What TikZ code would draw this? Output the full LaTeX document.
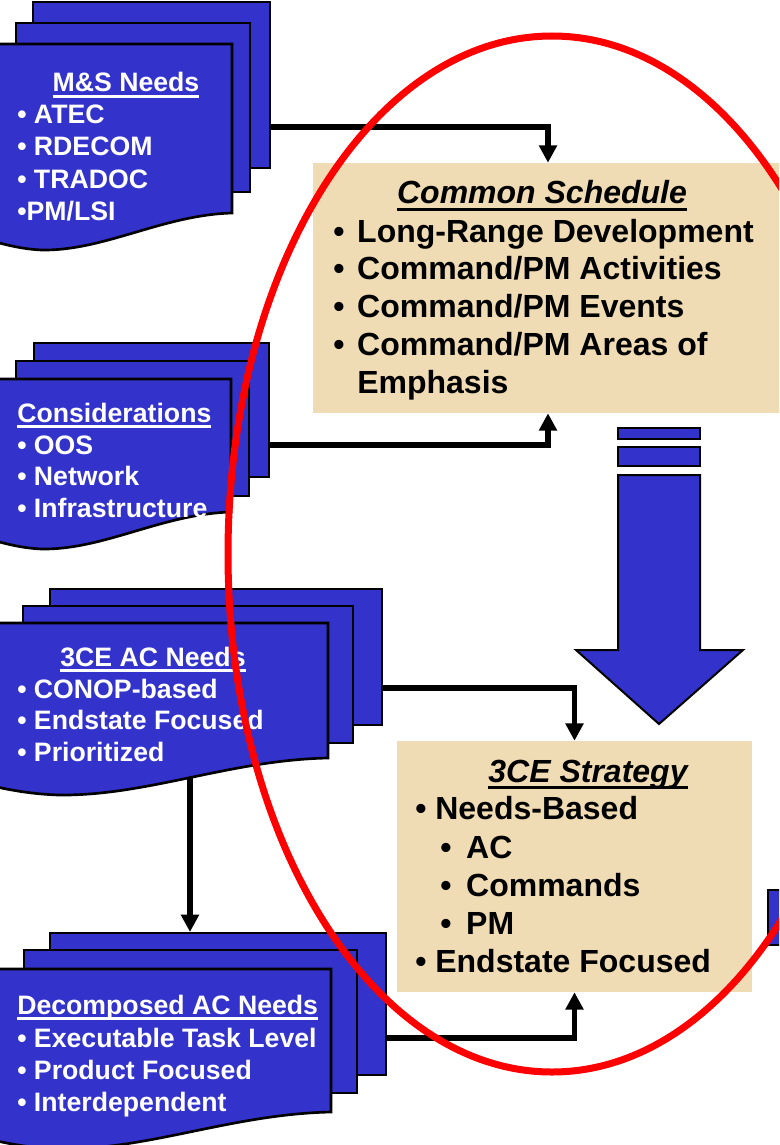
\documentclass[tikz,border=0pt]{standalone}
\usepackage{fontspec}
\setmainfont{Liberation Sans}
\usetikzlibrary{arrows.meta,calc}
\definecolor{sheetblue}{RGB}{51,51,204}
\definecolor{boxtan}{RGB}{240,220,180}
\definecolor{ringred}{RGB}{255,0,0}
\newcommand{\bigtxt}{\fontsize{24}{28.5}\selectfont\bfseries}
\newcommand{\smalltxt}{\fontsize{20}{24}\selectfont\bfseries}
\newcommand{\ulbar}[2][4.6pt]{\setbox0\hbox{#2}\rlap{\rule[-#1]{\wd0}{2pt}}\box0}
% front sheet of a stack: right edge, top, right end of the wavy bottom
\newcommand{\wavesheet}[3]{%
  \draw[sheet] (-20,#2) -- (#1,#2) -- (#1,#3)
    .. controls ({0.7*#1},{#3+2}) and ({0.45*#1},{#3+38}) .. ({0.18*#1},{#3+37})
    .. controls ({0.08*#1},{#3+36}) and (0,{#3+30}) .. (-20,{#3+25}) -- cycle;}

\begin{document}
\begin{tikzpicture}[x=0.75pt,y=-0.75pt,
  sheet/.style={fill=sheetblue,draw=black,line width=2pt},
  tanbox/.style={fill=boxtan,inner sep=0pt},
  flow/.style={line width=4pt,-{Triangle[length=13pt,width=13pt]}},
  wtxt/.style={text=white,font=\smalltxt,inner sep=0pt,anchor=base west},
  btxt/.style={font=\bigtxt,inner sep=0pt,anchor=base west}]
  \useasboundingbox (0,0) rectangle (779,1145);
  \clip (0,0) rectangle (779,1145);
  % tan boxes
  \node[tanbox,minimum width=352.5pt,minimum height=187.5pt] (sched) at (548,288) {};
  \node[tanbox,minimum width=266.25pt,minimum height=188.25pt] (strat) at (574.5,866.5) {};
  % connectors
  \coordinate (msout) at (270,127);
  \coordinate (conout) at (270,445);
  \coordinate (acout) at (382,688);
  \coordinate (acbot) at (190,760);
  \coordinate (dectop) at (190,932);
  \coordinate (decout) at (386,1038);
  \draw[flow] (msout) -| (sched.north);
  \draw[flow] (conout) -| (sched.south);
  \draw[flow] (acout) -| (strat.north);
  \draw[flow] (acbot) -- (dectop);
  \draw[flow] (decout) -| (strat.south);
  % M&S needs
  \draw[sheet] (33,2) rectangle (270,168);
  \draw[sheet] (16,23) rectangle (250,192);
  \wavesheet{232}{44}{213}
  % considerations
  \draw[sheet] (34,343) rectangle (269,477);
  \draw[sheet] (16,361) rectangle (249,496);
  \wavesheet{231}{379}{512}
  % 3CE AC needs
  \draw[sheet] (50,589) rectangle (382,725);
  \draw[sheet] (23,606) rectangle (353,743);
  \wavesheet{328}{623}{758}
  % decomposed AC needs
  \draw[sheet] (50,933) rectangle (386,1075);
  \draw[sheet] (24,950) rectangle (357,1093);
  \wavesheet{331}{969}{1112}
  % box at the right edge
  \draw[sheet] (768,890) rectangle (800,945);
  % big down arrow
  \draw[sheet] (618,428) rectangle (700,439);
  \draw[sheet] (618,447) rectangle (700,466);
  \draw[sheet,line width=1.5pt] (618,475) -- (700,475) -- (700,650) -- (743,650)
    -- (659,724) -- (576,650) -- (618,650) -- cycle;
  % sheet texts
  \node[wtxt,anchor=base] (mstitle) at (126,92) {\ulbar{M\&S Needs}};
  \foreach \lbl [count=\i] in {ATEC,RDECOM,TRADOC}
    \node[wtxt] (ms\i) at (17,{124+32*(\i-1)}) {• \lbl};
  \node[wtxt] (ms4) at (17,220) {•PM/LSI};
  \node[wtxt] (contitle) at (17,422) {\ulbar{Considerations}};
  \foreach \lbl [count=\i] in {OOS,Network,Infrastructure}
    \node[wtxt] (con\i) at (17,{454+31.5*(\i-1)}) {• \lbl};
  \node[wtxt,anchor=base] (actitle) at (153,666) {\ulbar{3CE AC Needs}};
  \foreach \lbl [count=\i] in {CONOP-based,Endstate Focused,Prioritized}
    \node[wtxt] (ac\i) at (17,{698+31.8*(\i-1)}) {• \lbl};
  \node[wtxt] (dectitle) at (17,1014) {\ulbar{Decomposed AC Needs}};
  \foreach \lbl [count=\i] in {Executable Task Level,Product Focused,Interdependent}
    \node[wtxt] (dec\i) at (17,{1047+32*(\i-1)}) {• \lbl};
  % box texts
  \node[btxt,anchor=base] (schedtitle) at (542,204) {\itshape\ulbar[5pt]{Common Schedule}};
  \foreach \lbl [count=\i] in {Long-Range Development,Command/PM Activities,Command/PM Events,Command/PM Areas of}
    \node[btxt] (sched\i) at (333,{242+37.8*(\i-1)}) {•\hspace{0.4em}\lbl};
  \node[btxt] (sched5) at (357,393) {Emphasis};
  \node[btxt,anchor=base] (strattitle) at (588,782) {\itshape\ulbar[5pt]{3CE Strategy}};
  \node[btxt] (strat1) at (415,819) {• Needs-Based};
  \foreach \lbl [count=\i] in {AC,Commands,PM}
    \node[btxt] (sub\i) at (440,{858+38.2*(\i-1)}) {•\hspace{0.46em}\lbl};
  \node[btxt] (strat2) at (415,972) {• Endstate Focused};
  % red ring
  \draw[ringred,line width=5.25pt] (552,554) ellipse [x radius=324,y radius=518];
\end{tikzpicture}
\end{document}
